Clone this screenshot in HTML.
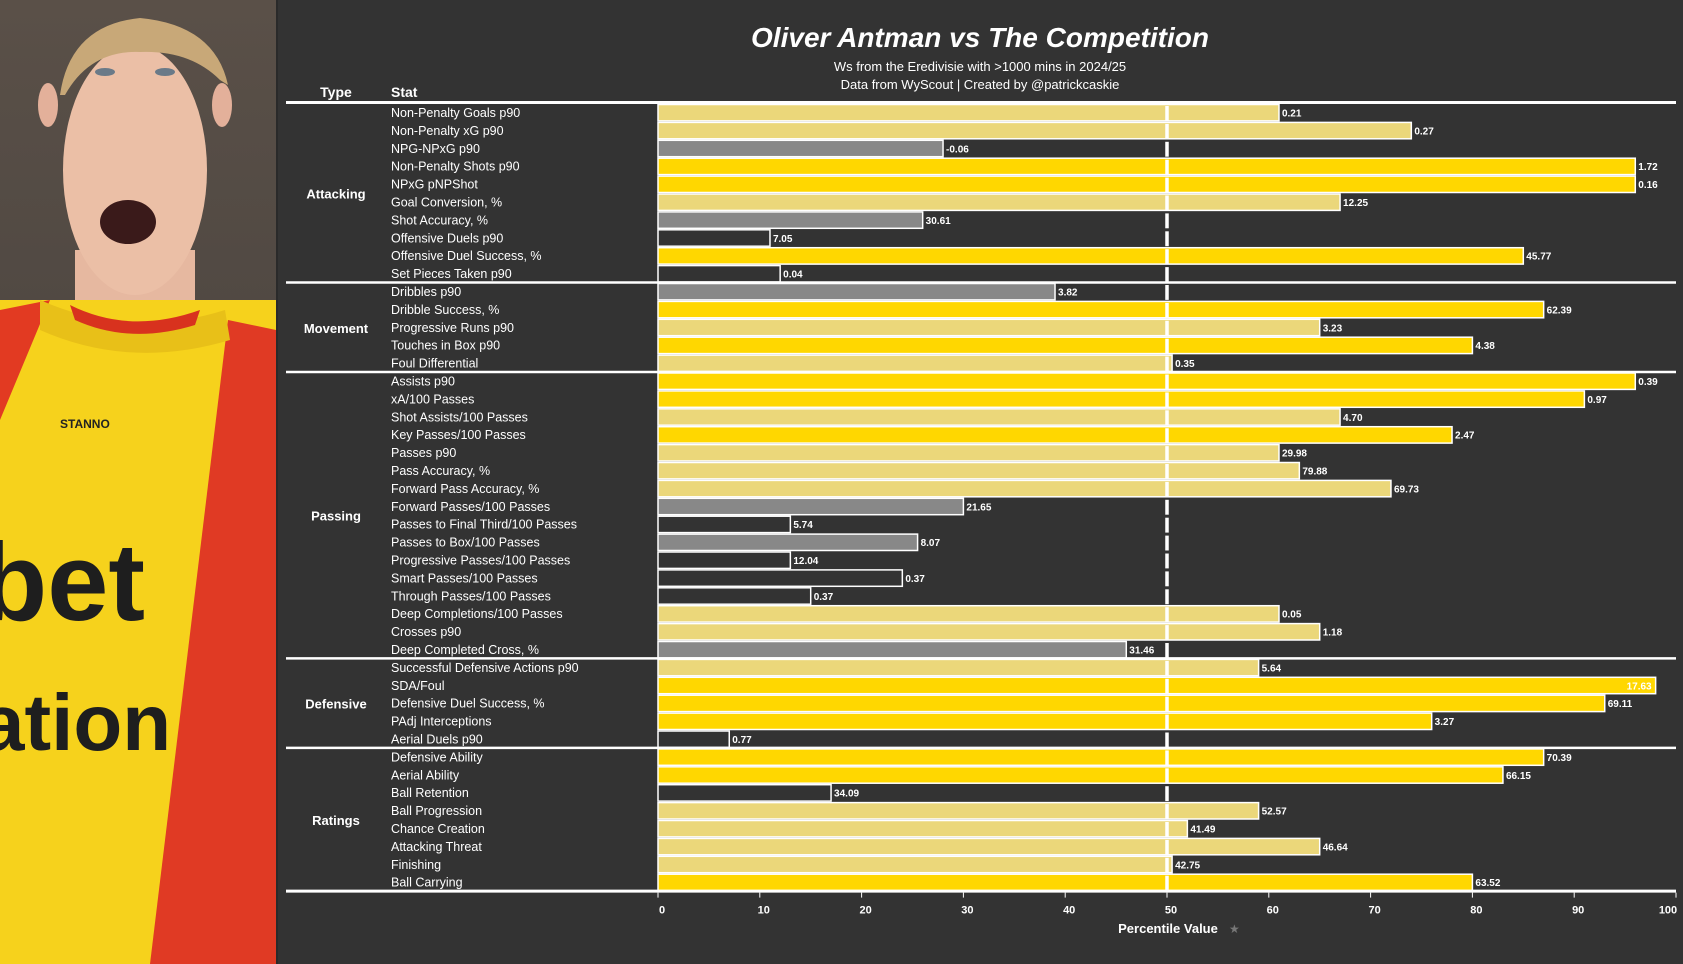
<!DOCTYPE html>
<html><head><meta charset="utf-8"><style>
html,body{margin:0;padding:0;background:#333;}
svg{display:block;font-family:"Liberation Sans",sans-serif;}
</style></head><body>
<svg id="c" width="1683" height="964" viewBox="0 0 1683 964">
<rect width="1683" height="964" fill="#333"/>
<g>
<defs><linearGradient id="bg" x1="0" y1="0" x2="0" y2="1"><stop offset="0" stop-color="#5a5048"/><stop offset="1" stop-color="#3d3a38"/></linearGradient></defs>
<rect x="0" y="0" width="276" height="964" fill="url(#bg)"/>
<rect x="75" y="250" width="120" height="90" fill="#e6b8a0"/>
<ellipse cx="135" cy="170" rx="72" ry="125" fill="#ebbfa6"/>
<ellipse cx="48" cy="105" rx="10" ry="22" fill="#e3b09a"/>
<ellipse cx="222" cy="105" rx="10" ry="22" fill="#e3b09a"/>
<path d="M60 95 Q70 25 140 18 Q215 25 228 85 L220 80 Q190 50 140 52 Q90 50 65 95Z" fill="#c8a878"/>
<ellipse cx="105" cy="72" rx="10" ry="4" fill="#6a7a88"/>
<ellipse cx="165" cy="72" rx="10" ry="4" fill="#6a7a88"/>
<ellipse cx="128" cy="222" rx="0" ry="0" fill="none"/>
<ellipse cx="128" cy="122" rx="28" ry="22" fill="#3a1a1a" transform="translate(0,100)"/>
<path d="M0 300 L276 300 L276 964 L0 964Z" fill="#f6d21c"/>
<path d="M0 310 L50 300 L0 420Z" fill="#e23a22"/>
<path d="M228 320 L276 330 L276 964 L150 964 Z" fill="#e03a24"/>
<path d="M40 300 Q130 340 225 310 L230 340 Q130 370 40 330Z" fill="#e8c018"/>
<path d="M70 305 Q130 335 200 310 L195 325 Q130 345 75 320Z" fill="#d8321e"/>
<text x="60" y="428" font-size="12" font-weight="bold" fill="#222">STANNO</text>
<text x="-20" y="620" font-size="110" font-weight="bold" fill="#1e1e1e">bet</text>
<text x="-20" y="750" font-size="80" font-weight="bold" fill="#1e1e1e">ation</text>
<rect x="276" y="0" width="2" height="964" fill="#2a2a2a"/>
</g>
<g id="chart"></g>
</svg>
<script>
const stats=["Non-Penalty Goals p90","Non-Penalty xG p90","NPG-NPxG p90","Non-Penalty Shots p90","NPxG pNPShot","Goal Conversion, %","Shot Accuracy, %","Offensive Duels p90","Offensive Duel Success, %","Set Pieces Taken p90","Dribbles p90","Dribble Success, %","Progressive Runs p90","Touches in Box p90","Foul Differential","Assists p90","xA/100 Passes","Shot Assists/100 Passes","Key Passes/100 Passes","Passes p90","Pass Accuracy, %","Forward Pass Accuracy, %","Forward Passes/100 Passes","Passes to Final Third/100 Passes","Passes to Box/100 Passes","Progressive Passes/100 Passes","Smart Passes/100 Passes","Through Passes/100 Passes","Deep Completions/100 Passes","Crosses p90","Deep Completed Cross, %","Successful Defensive Actions p90","SDA/Foul","Defensive Duel Success, %","PAdj Interceptions","Aerial Duels p90","Defensive Ability","Aerial Ability","Ball Retention","Ball Progression","Chance Creation","Attacking Threat","Finishing","Ball Carrying"];
const percentiles=[61,74,28,96,96,67,26,11,85,12,39,87,65,80,50.5,96,91,67,78,61,63,72,30,13,25.5,13,24,15,61,65,46,59,98,93,76,7,87,83,17,59,52,65,50.5,80];
const rawValues=["0.21","0.27","-0.06","1.72","0.16","12.25","30.61","7.05","45.77","0.04","3.82","62.39","3.23","4.38","0.35","0.39","0.97","4.70","2.47","29.98","79.88","69.73","21.65","5.74","8.07","12.04","0.37","0.37","0.05","1.18","31.46","5.64","17.63","69.11","3.27","0.77","70.39","66.15","34.09","52.57","41.49","46.64","42.75","63.52"];
const groups=["Attacking","Movement","Passing","Defensive","Ratings"];
const groupSizes=[10,5,16,5,8];
const ticks=[0,10,20,30,40,50,60,70,80,90,100];

const NS="http://www.w3.org/2000/svg";
const g=document.getElementById('chart');
const X0=658,X1=1676,TOP=104,PITCH=17.9;
const xs=v=>X0+(X1-X0)*v/100;
const yr=i=>TOP+i*PITCH;
function mk(t,a,txt){const e=document.createElementNS(NS,t);for(const k in a)e.setAttribute(k,a[k]);if(txt!==undefined)e.textContent=txt;g.appendChild(e);return e;}
function col(p){return p>=75?"#ffd700":p>=50?"#ebd77a":p>=25?"#888888":"#333333";}

let e=mk('text',{x:980,y:47,'text-anchor':'middle','font-size':28,'font-weight':'bold','font-style':'italic',fill:'#fff'},'Oliver Antman vs The Competition');


e=mk('text',{x:980,y:71,'text-anchor':'middle','font-size':13,fill:'#fff'},'Ws from the Eredivisie with >1000 mins in 2024/25');


e=mk('text',{x:980,y:89,'text-anchor':'middle','font-size':13,fill:'#fff'},'Data from WyScout | Created by @patrickcaskie');


e=mk('text',{x:336,y:97,'text-anchor':'middle','font-size':14,'font-weight':'bold',fill:'#fff'},'Type');


e=mk('text',{x:391,y:97,'font-size':14,'font-weight':'bold',fill:'#fff'},'Stat');



stats.forEach((s,i)=>{
  const p=percentiles[i],y=yr(i);
  const r=mk('rect',{x:X0,y:y+0.5,width:xs(p)-X0,height:PITCH-1.5,fill:col(p),stroke:'#fff','stroke-width':1.5});
  
  
  const t=mk('text',{x:391,y:y+13,'font-size':12.5,fill:'#fff'},s);
  
  
  const inside=p>97;
  const v=mk('text',{x:inside?xs(p)-4:xs(p)+3,y:y+12.5,'font-size':10,'font-weight':'bold',fill:'#fff','text-anchor':inside?'end':'start'},rawValues[i]);
  
  
});

for(let i=0;i<stats.length;i++){
  const l=mk('line',{x1:xs(50),x2:xs(50),y1:yr(i)+2,y2:yr(i)+PITCH-1,stroke:'#fff','stroke-width':3.5});
  
  
}

let start=0;
groups.forEach((gr,k)=>{
  const n=groupSizes[k];
  const cy=yr(start)+n*PITCH/2;
  const t=mk('text',{x:336,y:cy+5,'text-anchor':'middle','font-size':13,'font-weight':'bold',fill:'#fff'},gr);
  
  
  start+=n;
  const sy=yr(start)-0.5;
  const l=mk('line',{x1:286,x2:1676,y1:sy,y2:sy,stroke:'#fff','stroke-width':k==groups.length-1?3:2.5});
  
  
});
e=mk('line',{x1:286,x2:1676,y1:TOP-1.5,y2:TOP-1.5,stroke:'#fff','stroke-width':3});



const by=yr(stats.length)+1;
ticks.forEach(tv=>{
  const l=mk('line',{x1:xs(tv),x2:xs(tv),y1:by,y2:by+5,stroke:'#fff','stroke-width':1});
  
  
  const t=mk('text',{x:xs(tv)+(tv==100?-8:4),y:by+21,'text-anchor':'middle','font-size':11,'font-weight':'bold',fill:'#fff'},tv);
  
  
});
e=mk('text',{x:1168,y:933,'text-anchor':'middle','font-size':13,'font-weight':'bold',fill:'#fff'},'Percentile Value');


e=mk('text',{x:1229,y:933,'font-size':12,fill:'#777'},'★');


</script>
</body></html>
